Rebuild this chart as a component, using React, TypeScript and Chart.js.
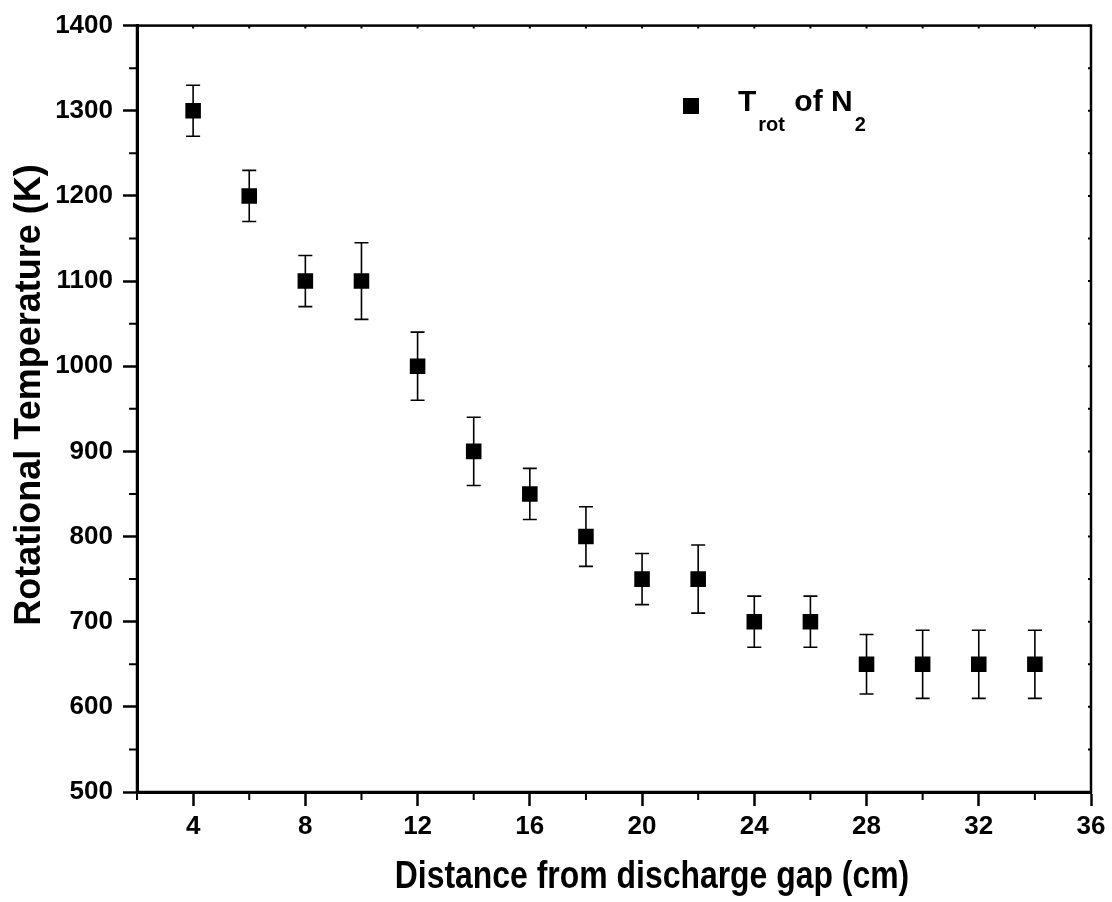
import React, { useEffect, useRef } from 'react';
import { Chart, registerables } from 'chart.js';

Chart.register(...registerables);

const FONT = "'Liberation Sans', Arial, Helvetica, sans-serif";

// ---- data ----
const X_VALUES = [4, 6, 8, 10, 12, 14, 16, 18, 20, 22, 24, 26, 28, 30, 32, 34];
const Y_VALUES = [1300, 1200, 1100, 1100, 1000, 900, 850, 800, 750, 750, 700, 700, 650, 650, 650, 650];
const Y_ERRORS = [30, 30, 30, 45, 40, 40, 30, 35, 30, 40, 30, 30, 35, 40, 40, 40];

const X_TICKS = [4, 8, 12, 16, 20, 24, 28, 32, 36];
const X_MINOR_TICKS = [2, 6, 10, 14, 18, 22, 26, 30, 34];
const Y_TICKS = [500, 600, 700, 800, 900, 1000, 1100, 1200, 1300, 1400];
const Y_MINOR_TICKS = [550, 650, 750, 850, 950, 1050, 1150, 1250, 1350];

const X_MIN = 2;
const X_MAX = 36;
const Y_MIN = 500;
const Y_MAX = 1400;

const X_TITLE = 'Distance from discharge gap (cm)';
const Y_TITLE = 'Rotational Temperature (K)';
const LEGEND_PARTS = [
  { text: 'T', sub: false },
  { text: 'rot', sub: true },
  { text: ' of N', sub: false },
  { text: '2', sub: true },
];

export default function App() {
  const ref = useRef<HTMLCanvasElement>(null);

  useEffect(() => {
    const canvas = ref.current;
    if (!canvas) return;

    const errorBars = {
      id: 'errorBars',
      beforeDatasetsDraw(chart: any) {
        const { ctx, scales } = chart;
        const xs = scales.x;
        const ys = scales.y;
        ctx.save();
        ctx.strokeStyle = '#000';
        ctx.lineWidth = 1.6;
        const cap = 7;
        X_VALUES.forEach((xv, i) => {
          const px = xs.getPixelForValue(xv);
          const top = ys.getPixelForValue(Y_VALUES[i] + Y_ERRORS[i]);
          const bot = ys.getPixelForValue(Y_VALUES[i] - Y_ERRORS[i]);
          ctx.beginPath();
          ctx.moveTo(px, top);
          ctx.lineTo(px, bot);
          ctx.moveTo(px - cap, top);
          ctx.lineTo(px + cap, top);
          ctx.moveTo(px - cap, bot);
          ctx.lineTo(px + cap, bot);
          ctx.stroke();
        });
        ctx.restore();
      },
    };

    const frame = {
      id: 'frame',
      afterDraw(chart: any) {
        const { ctx, chartArea, scales } = chart;
        const { left, right, top, bottom } = chartArea;
        const xs = scales.x;
        const ys = scales.y;
        ctx.save();
        ctx.strokeStyle = '#000';
        ctx.lineWidth = 2.5;
        ctx.strokeRect(left, top, right - left, bottom - top);
        // minor ticks outward
        ctx.lineWidth = 2;
        ctx.beginPath();
        X_MINOR_TICKS.forEach((v) => {
          const px = xs.getPixelForValue(v);
          ctx.moveTo(px, bottom);
          ctx.lineTo(px, bottom + 8);
        });
        Y_MINOR_TICKS.forEach((v) => {
          const py = ys.getPixelForValue(v);
          ctx.moveTo(left, py);
          ctx.lineTo(left - 8, py);
        });
        // tiny inward ticks on top and right
        [...X_TICKS, ...X_MINOR_TICKS].forEach((v) => {
          const px = xs.getPixelForValue(v);
          ctx.moveTo(px, top);
          ctx.lineTo(px, top + 3);
        });
        [...Y_TICKS, ...Y_MINOR_TICKS].forEach((v) => {
          const py = ys.getPixelForValue(v);
          ctx.moveTo(right, py);
          ctx.lineTo(right - 3, py);
        });
        ctx.stroke();

        ctx.fillStyle = '#000';
        // axis titles
        ctx.textAlign = 'center';
        ctx.textBaseline = 'middle';
        ctx.save();
        ctx.translate(652, 878);
        ctx.scale(0.84, 1);
        ctx.font = `bold 38px ${FONT}`;
        ctx.fillText(X_TITLE, 0, 0);
        ctx.restore();
        ctx.save();
        ctx.translate(30, 395);
        ctx.rotate(-Math.PI / 2);
        ctx.font = `bold 36px ${FONT}`;
        ctx.fillText(Y_TITLE, 0, 0);
        ctx.restore();

        // legend
        const sx = 691;
        const sy = 106;
        ctx.fillRect(sx - 8, sy - 8, 16, 16);
        let tx = 738;
        const base = 111;
        ctx.textBaseline = 'alphabetic';
        ctx.textAlign = 'left';
        LEGEND_PARTS.forEach((p) => {
          ctx.font = p.sub ? `bold 20px ${FONT}` : `bold 30px ${FONT}`;
          ctx.fillText(p.text, tx, p.sub ? base + 20 : base);
          tx += ctx.measureText(p.text).width + (p.sub ? 1 : 2);
        });
        ctx.restore();
      },
    };

    const tickFont = { family: FONT, size: 26, weight: 'bold' as const };

    const chart = new Chart(canvas, {
      type: 'scatter',
      data: {
        datasets: [
          {
            label: 'Trot of N2',
            data: X_VALUES.map((x, i) => ({ x, y: Y_VALUES[i] })),
            pointStyle: 'rect',
            pointRadius: 11,
            pointHoverRadius: 11,
            backgroundColor: '#000',
            borderColor: '#000',
            borderWidth: 0,
            showLine: false,
          },
        ],
      },
      options: {
        responsive: false,
        animation: false,
        devicePixelRatio: 1,
        events: [],
        layout: { padding: { left: 0, top: 25, right: 21, bottom: 0 } },
        plugins: {
          legend: { display: false },
          tooltip: { enabled: false },
        },
        scales: {
          x: {
            type: 'linear',
            min: X_MIN,
            max: X_MAX,
            afterBuildTicks: (s: any) => {
              s.ticks = X_TICKS.map((v) => ({ value: v }));
            },
            afterFit: (s: any) => {
              s.height = 110;
            },
            grid: {
              drawOnChartArea: false,
              drawTicks: true,
              tickLength: 14,
              tickWidth: 2.5,
              tickColor: '#000',
            },
            border: { display: true, color: '#000', width: 3 },
            ticks: {
              color: '#000',
              font: tickFont,
              padding: 5,
              maxRotation: 0,
              autoSkip: false,
              callback: (v: any) => String(v),
            },
            title: { display: false },
          },
          y: {
            type: 'linear',
            min: Y_MIN,
            max: Y_MAX,
            afterBuildTicks: (s: any) => {
              s.ticks = Y_TICKS.map((v) => ({ value: v }));
            },
            afterFit: (s: any) => {
              s.width = 137;
            },
            grid: {
              drawOnChartArea: false,
              drawTicks: true,
              tickLength: 14,
              tickWidth: 2.5,
              tickColor: '#000',
            },
            border: { display: true, color: '#000', width: 3 },
            ticks: {
              color: '#000',
              font: tickFont,
              padding: 10,
              autoSkip: false,
              callback: (v: any) => String(v),
            },
            title: { display: false },
          },
        },
      },
      plugins: [errorBars, frame],
    });

    return () => chart.destroy();
  }, []);

  return (
    <div style={{ position: 'absolute', left: 0, top: 0, width: 1112, height: 902, background: '#fff' }}>
      <canvas ref={ref} width={1112} height={902} style={{ display: 'block' }} />
    </div>
  );
}
